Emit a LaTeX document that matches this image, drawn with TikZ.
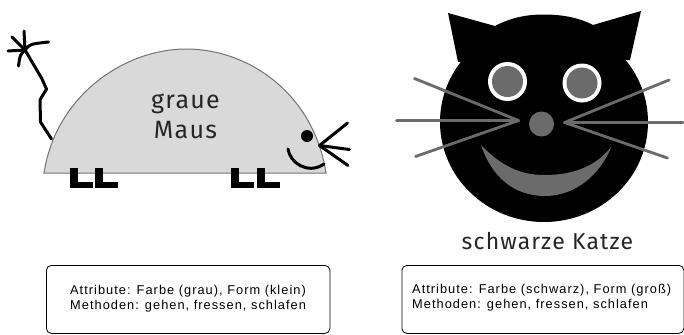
\documentclass[tikz,border=0pt]{standalone}
\usepackage{fontspec}
\setmainfont[LetterSpace=8]{Liberation Sans}
\newfontfamily\titlefont[LetterSpace=5]{Fira Sans}
\tikzset{
  x=1bp,y=-1bp,
  ink/.style={draw=black,line width=3bp,line cap=round,line join=round},
  foot/.style={fill=black,draw=none},
  whisker/.style={draw=black!58,line width=2.8bp,line cap=round},
  greyfill/.style={fill=black!58,draw=none},
  infobox/.style={draw=black,line width=0.8bp,rounded corners=5bp,fill=white},
  infotext/.style={anchor=west,align=left,inner sep=0pt,font=\fontsize{12.8bp}{15bp}\selectfont},
  animaltext/.style={inner sep=0pt,text=black!85,font=\titlefont\fontsize{25bp}{30bp}\selectfont},
  catcaption/.style={inner sep=0pt,text=black!85,font=\titlefont\fontsize{23bp}{26bp}\selectfont}
}
\begin{document}
\begin{tikzpicture}
\useasboundingbox (0,0) rectangle (684,334);

% mouse body
\draw[fill=black!15,draw=black!55,line width=1bp]
  (44,173) .. controls (56,95) and (125,49) .. (186,49)
  .. controls (250,49) and (314,95) .. (326,173) -- cycle;

% mouse feet
\foreach \fx in {70,95,231,257}{
  \fill[foot] (\fx,168) rectangle ++(7.5,20);
  \fill[foot] (\fx,181.5) rectangle ++(22.5,6.5);
}

% mouse tail with tuft
\coordinate (tuft) at (25,50);
\draw[ink] (51.5,139) -- (40.5,122) -- (40,100) -- (46.5,89) -- (41.5,78) -- (tuft);
\draw[ink] (tuft) -- (24,31);
\draw[ink] (tuft) -- (12,37);
\draw[ink] (tuft) -- (8,51);
\draw[ink] (tuft) .. controls (20,55) .. (18.5,66);
\draw[ink] (tuft) .. controls (30,44) .. (48.5,42);

% mouse face
\fill[black] (307,136) circle (6);
\coordinate (snout) at (319.5,145.5);
\draw[ink] (snout) -- (347.5,123);
\draw[ink] (snout) -- (349.5,149.5);
\draw[ink] (snout) -- (348,165.5);
\draw[ink] (288,149) .. controls (290,163) and (308,175) .. (324,164);

\node[animaltext,align=center] (mouselabel) at (185.5,116) {graue\\Maus};

% cat head and ears
\fill[black] (544,122) ellipse (104 and 100);
\fill[black] (458,62) -- (448,13) -- (495,26) .. controls (512,17) and (528,14.5) .. (544,14.5)
  .. controls (560,14.5) and (578,17) .. (593,25) -- (641,11) -- (630,60) -- cycle;

% cat eyes
\foreach \ex/\ey in {507.5/81.5,582/83}{
  \fill[white] (\ex,\ey) circle (19.5);
  \fill[black!58] (\ex,\ey) circle (15.5);
}

% cat nose
\fill[greyfill] (541.5,124) circle (12.5);

% cat whiskers
\coordinate (lw) at (518.5,120.5);
\coordinate (rw) at (564.5,122.5);
\draw[whisker] (lw) -- (414.5,78.5);
\draw[whisker] (lw) -- (396.5,120.5);
\draw[whisker] (lw) -- (415.5,156.5);
\draw[whisker] (rw) -- (669,80);
\draw[whisker] (rw) -- (683,122.5);
\draw[whisker] (rw) -- (667.5,158);

% cat smile
\path[greyfill] (481,145) .. controls (505,170) and (525,175) .. (545,175)
  .. controls (570,175) and (595,168) .. (611.5,146.5)
  .. controls (600,175) and (575,196) .. (545,196)
  .. controls (515,196) and (492,178) .. (481,145) -- cycle;

\node[catcaption] (catlabel) at (547.5,241.5) {schwarze Katze};

% description boxes
\node[infobox,minimum width=283.5bp,minimum height=68bp,anchor=north west] (mousebox) at (46,265) {};
\node[infobox,minimum width=282bp,minimum height=68bp,anchor=north west] (catbox) at (401.5,265) {};
\node[infotext] (mouseinfo) at (70,298.5) {Attribute: Farbe (grau), Form (klein)\\Methoden: gehen, fressen, schlafen};
\node[infotext] (catinfo) at (412,297.5) {Attribute: Farbe (schwarz), Form (groß)\\Methoden: gehen, fressen, schlafen};
\end{tikzpicture}
\end{document}
